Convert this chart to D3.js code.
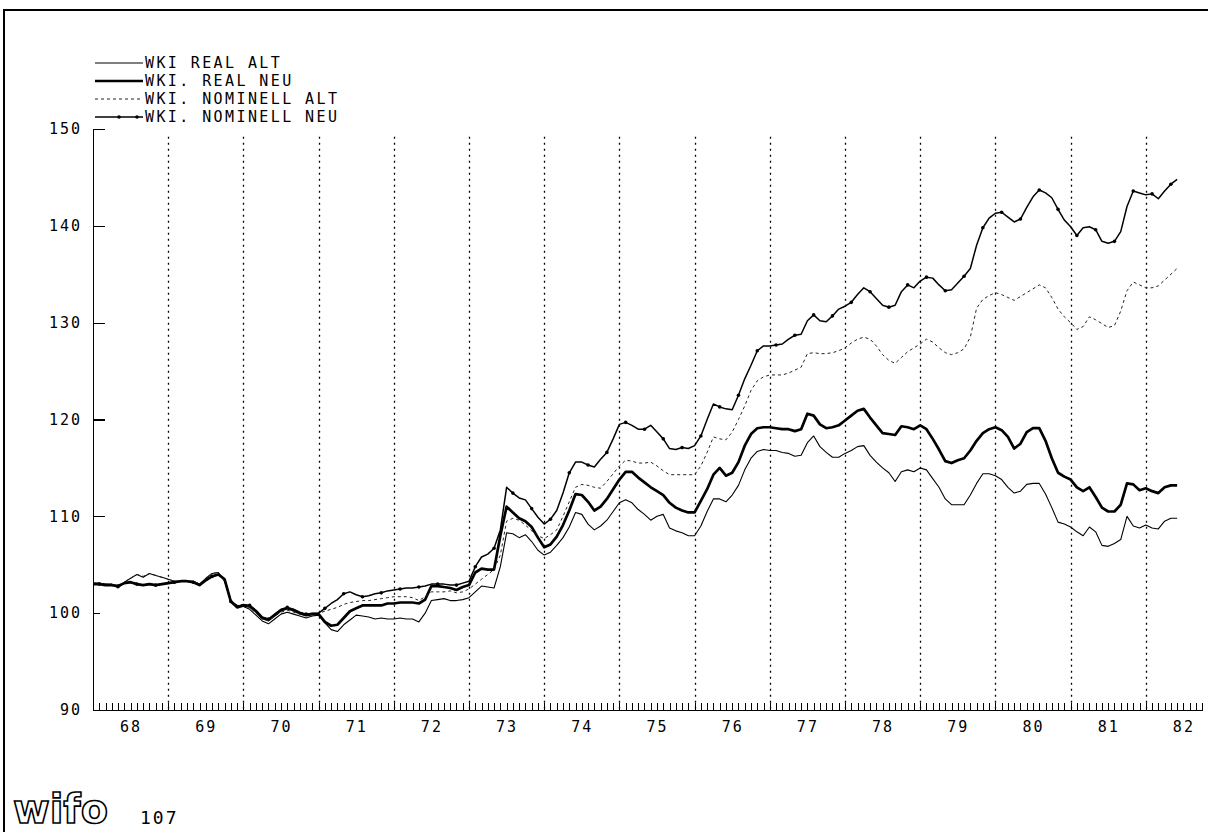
<!DOCTYPE html>
<meta charset="utf-8">
<head>
<style>
  body { margin: 0; background: #fff; }
  svg { display: block; }
  .lbl { font-family: "DejaVu Sans Mono", monospace; font-size: 15px; fill: #000; }
  .axis text { font-family: "DejaVu Sans Mono", monospace; font-size: 15px; fill: #000; }
  .axis path, .axis line { stroke: #000; shape-rendering: crispEdges; }
</style>
</head>
<body>
<script src="https://d3js.org/d3.v7.min.js"></script>
<script>
// monthly values, Jan 1968 .. Jun 1982
var realAlt = [
  103.1, 103.1, 103.0, 103.0, 102.6, 103.2, 103.6, 104.0, 103.7, 104.1, 103.9, 103.7,
  103.5, 103.3, 103.3, 103.3, 103.3, 103.0, 103.6, 104.1, 104.2, 103.3, 101.3, 100.8,
  100.7, 100.4, 99.8, 99.2, 98.9, 99.4, 99.9, 100.1, 99.9, 99.7, 99.5, 99.7,
  99.8, 99.0, 98.3, 98.1, 98.8, 99.3, 99.8, 99.7, 99.6, 99.4, 99.5, 99.4,
  99.4, 99.5, 99.4, 99.4, 99.1, 100.0, 101.3, 101.4, 101.5, 101.3, 101.3, 101.4,
  101.6, 102.2, 102.8, 102.7, 102.6, 104.8, 108.3, 108.2, 107.8, 108.1, 107.4, 106.5,
  106.0, 106.3, 107.0, 107.8, 108.9, 110.4, 110.2, 109.2, 108.6, 109.0, 109.6, 110.5,
  111.4, 111.7, 111.4, 110.7, 110.2, 109.6, 110.0, 110.2, 108.8, 108.5, 108.3, 108.0,
  108.0, 109.0, 110.5, 111.8, 111.8, 111.5, 112.2, 113.2, 114.8, 116.0, 116.7, 116.9,
  116.8, 116.8, 116.6, 116.5, 116.2, 116.3, 117.6, 118.3, 117.2, 116.6, 116.1, 116.1,
  116.5, 116.8, 117.2, 117.3, 116.3, 115.6, 115.0, 114.5, 113.6, 114.6, 114.8, 114.6,
  115.0, 114.8, 113.9, 113.0, 111.8, 111.2, 111.2, 111.2, 112.2, 113.4, 114.4, 114.4,
  114.2, 113.8, 113.0, 112.4, 112.6, 113.3, 113.4, 113.4, 112.3, 110.9, 109.4, 109.2,
  108.9, 108.4, 108.0, 108.9, 108.4, 107.0, 106.9, 107.2, 107.6, 110.0, 109.0, 108.8,
  109.1, 108.8, 108.7, 109.5, 109.8, 109.8
];
var realNeu = [
  103.0, 103.0, 102.9, 102.9, 102.8, 103.1, 103.2, 103.0, 102.9, 103.0, 102.9, 103.0,
  103.1, 103.2, 103.3, 103.3, 103.2, 102.9, 103.4, 103.8, 104.0, 103.5, 101.2, 100.6,
  100.8, 100.7, 100.2, 99.5, 99.3, 99.8, 100.3, 100.5, 100.3, 100.0, 99.8, 99.9,
  99.9, 99.1, 98.7, 98.8, 99.5, 100.2, 100.5, 100.8, 100.8, 100.8, 100.8, 101.0,
  101.0, 101.1, 101.1, 101.1, 101.0, 101.4, 102.8, 102.8, 102.7, 102.6, 102.4, 102.7,
  102.9, 104.2, 104.6, 104.5, 104.5, 108.0, 111.0, 110.4, 109.8, 109.5, 108.9, 107.8,
  106.8, 107.1, 107.9, 109.1, 110.6, 112.3, 112.2, 111.5, 110.6, 111.0, 111.8, 112.8,
  113.8, 114.6, 114.6, 114.0, 113.5, 113.0, 112.6, 112.2, 111.4, 110.9, 110.6, 110.4,
  110.4, 111.6, 112.8, 114.3, 115.0, 114.2, 114.5, 115.6, 117.3, 118.5, 119.1, 119.2,
  119.2, 119.1, 119.0, 119.0, 118.8, 119.0, 120.6, 120.4, 119.5, 119.1, 119.2, 119.4,
  119.9, 120.4, 120.9, 121.1, 120.2, 119.4, 118.6, 118.5, 118.4, 119.3, 119.2, 119.0,
  119.4, 119.0, 118.0, 116.9, 115.7, 115.5, 115.8, 116.0, 116.8, 117.8, 118.6, 119.0,
  119.2, 118.9, 118.2, 117.0, 117.5, 118.7, 119.1, 119.1, 117.8, 116.0, 114.5, 114.1,
  113.8, 113.0, 112.6, 113.0, 112.0, 110.9, 110.5, 110.5, 111.2, 113.4, 113.3, 112.7,
  112.9, 112.6, 112.4, 113.0, 113.2, 113.2
];
var nominellAlt = [
  103.1, 103.1, 103.0, 103.0, 102.7, 103.2, 103.6, 104.0, 103.8, 104.1, 103.9, 103.7,
  103.5, 103.3, 103.3, 103.3, 103.3, 103.0, 103.6, 104.1, 104.2, 103.3, 101.3, 100.8,
  100.9, 100.6, 100.0, 99.4, 99.2, 99.7, 100.1, 100.3, 100.1, 99.9, 99.8, 99.9,
  100.0, 100.2, 100.4, 100.6, 100.9, 101.1, 101.2, 101.3, 101.3, 101.4, 101.5, 101.6,
  101.7, 101.7, 101.7, 101.6, 101.3, 101.7, 102.2, 102.2, 102.2, 102.3, 102.1, 102.2,
  102.5, 103.0, 103.5, 104.0, 104.5, 106.0, 109.5, 109.8, 109.6, 109.1, 108.5, 108.0,
  107.7, 108.1, 108.6, 110.0, 111.5, 113.0, 113.3, 113.2, 113.0, 112.9, 113.6, 114.4,
  115.2, 115.8, 115.7, 115.5, 115.5, 115.6, 115.2, 114.7, 114.3, 114.3, 114.3, 114.3,
  114.3, 115.2, 116.6, 118.2, 118.0, 117.9, 118.7, 120.0, 121.4, 123.0, 124.0, 124.4,
  124.6, 124.6, 124.6, 124.8, 125.1, 125.4, 126.8, 126.9, 126.8, 126.8, 126.9, 127.1,
  127.4, 127.9, 128.3, 128.5, 128.3, 127.6, 126.7, 126.1, 125.8, 126.4, 127.0, 127.4,
  127.8, 128.3, 128.0, 127.4, 126.9, 126.7, 126.9, 127.3, 128.5, 131.5, 132.4, 132.8,
  133.1, 132.9, 132.6, 132.3, 132.7, 133.1, 133.5, 133.9, 133.6, 132.6, 131.4, 130.6,
  130.0, 129.3, 129.6, 130.6, 130.3, 129.9, 129.5, 129.7, 131.2, 133.3, 134.2, 133.9,
  133.6, 133.6, 133.8, 134.4, 135.0, 135.6
];
var nominellNeu = [
  103.0, 103.0, 102.9, 102.9, 102.8, 103.1, 103.2, 103.0, 102.9, 103.0, 102.9, 103.0,
  103.1, 103.2, 103.3, 103.3, 103.2, 102.9, 103.4, 103.8, 104.0, 103.5, 101.2, 100.7,
  100.9, 100.8, 100.3, 99.6, 99.4, 99.9, 100.4, 100.6, 100.4, 100.1, 99.9, 100.0,
  100.0, 100.5, 101.0, 101.4, 102.0, 102.2, 101.9, 101.7, 101.8, 102.0, 102.1, 102.3,
  102.4, 102.5, 102.6, 102.6, 102.7, 102.8, 103.0, 103.0, 103.0, 102.9, 102.9, 103.1,
  103.3, 104.8, 105.8, 106.1, 106.7, 108.6, 113.0, 112.4, 111.9, 111.7, 110.8, 109.9,
  109.2, 109.7, 110.6, 112.4, 114.5, 115.6, 115.6, 115.3, 115.1, 115.9, 116.6, 118.0,
  119.5, 119.7, 119.4, 119.0, 119.0, 119.4, 118.7, 118.0, 117.0, 116.9, 117.1, 117.0,
  117.3, 118.3, 120.0, 121.6, 121.3, 121.1, 121.0, 122.5, 124.2, 125.6, 127.1, 127.6,
  127.6, 127.7, 127.8, 128.3, 128.7, 128.8, 130.2, 130.8, 130.2, 130.1, 130.7, 131.4,
  131.7, 132.1, 132.9, 133.6, 133.2, 132.5, 131.8, 131.6, 131.8, 133.2, 133.9, 133.6,
  134.3, 134.7, 134.6, 133.9, 133.3, 133.4, 134.1, 134.8, 135.6, 138.0, 139.8, 140.8,
  141.3, 141.4, 140.9, 140.4, 140.7, 141.9, 143.0, 143.7, 143.4, 142.9, 141.7, 140.6,
  139.9, 139.0, 139.8, 139.9, 139.6, 138.4, 138.2, 138.4, 139.4, 142.0, 143.6, 143.4,
  143.2, 143.3, 142.8, 143.6, 144.3, 144.8
];
var years = d3.range(1968, 1983);
var yTicks = [90, 100, 110, 120, 130, 140, 150];
var legendNames = ["WKI  REAL ALT", "WKI. REAL NEU", "WKI. NOMINELL ALT", "WKI. NOMINELL NEU"];

var W = 1208, H = 832;
var svg = d3.select("body").append("svg").attr("width", W).attr("height", H);

//scales
var x = d3.scaleLinear().domain([1968, 1982.75]).range([93, 93 + 14.75 * 75.2]);
var y = d3.scaleLinear().domain([90, 150]).range([710, 129]);
var t = function(i) { return 1968 + i / 12; };

//page frame (top and left edges)
svg.append("path").attr("d", "M4,832V10H1208").attr("fill", "none")
   .attr("stroke", "#000").attr("stroke-width", 2);

//yearly dotted grid
svg.append("g").selectAll("line")
  .data(years.slice(1))
  .enter().append("line")
  .attr("x1", function(d) { return Math.round(x(d)) + 0.5; })
  .attr("x2", function(d) { return Math.round(x(d)) + 0.5; })
  .attr("y1", y(149.2)).attr("y2", y(90))
  .attr("stroke", "#000").attr("stroke-width", 1.3)
  .attr("stroke-dasharray", "2,4");

//y axis
var yAxis = d3.axisLeft(y).tickValues(yTicks).tickSize(0).tickPadding(11);
var gy = svg.append("g").attr("class", "axis").attr("transform", "translate(93,0)").call(yAxis);
gy.select(".domain").attr("stroke-width", 1.5);
gy.selectAll(".tick text").style("letter-spacing", "2px");
gy.selectAll(".tick").filter(function(d) { return d > 90; })
  .append("line").attr("x2", function(d) { return d == 100 ? 7 : 12; }).attr("stroke-width", 1.3);

//x axis: monthly ticks
var monthTicks = d3.range(0, 14.75 * 12 + 1).map(t);
var xAxis = d3.axisBottom(x).tickValues(monthTicks).tickSize(-7).tickFormat("");
svg.append("g").attr("class", "axis").attr("transform", "translate(0,710)").call(xAxis)
  .select(".domain").attr("stroke-width", 1.5);

//year labels
var xLab = d3.axisBottom(x).tickValues(years.map(function(d) { return d + 0.5; }))
  .tickSize(0).tickPadding(11).tickFormat(function(d) { return String(Math.floor(d) % 100); });
var gx = svg.append("g").attr("class", "axis").attr("transform", "translate(0,710)").call(xLab);
gx.select(".domain").remove();
gx.selectAll("text").style("letter-spacing", "2px");

//series
var series = [
  { name: legendNames[0], values: realAlt, width: 1.1, dash: null, color: "#000" },
  { name: legendNames[1], values: realNeu, width: 2.7, dash: null, color: "#000" },
  { name: legendNames[2], values: nominellAlt, width: 1, dash: "3,3", color: "#222" },
  { name: legendNames[3], values: nominellNeu, width: 1.5, dash: null, color: "#000", dots: true }
];
var line = d3.line().x(function(d, i) { return x(t(i)); }).y(function(d) { return y(d); });

series.forEach(function(s) {
  svg.append("path").datum(s.values)
    .attr("fill", "none").attr("stroke", s.color)
    .attr("stroke-width", s.width)
    .attr("stroke-linejoin", "round")
    .attr("stroke-dasharray", s.dash)
    .attr("d", line);
  if (s.dots) {
    svg.append("g").selectAll("circle")
      .data(s.values.map(function(v, i) { return [i, v]; }).filter(function(d) { return d[0] % 3 == 1; }))
      .enter().append("circle")
      .attr("cx", function(d) { return x(t(d[0])); })
      .attr("cy", function(d) { return y(d[1]); })
      .attr("r", 1.8).attr("fill", "#000");
  }
});

//legend
var leg = svg.append("g").attr("transform", "translate(95,63)");
series.forEach(function(s, k) {
  var g = leg.append("g").attr("transform", "translate(0," + (k * 18) + ")");
  g.append("line").attr("x1", 0).attr("x2", 48).attr("stroke", s.color)
    .attr("stroke-width", s.width).attr("stroke-dasharray", s.dash);
  if (s.dots) {
    [24, 42].forEach(function(cx) {
      g.append("circle").attr("cx", cx).attr("r", 1.8).attr("fill", "#000");
    });
  }
  g.append("text").attr("class", "lbl").attr("x", 50).attr("dy", "0.36em")
    .style("letter-spacing", "2.4px").text(s.name);
});

//wifo logo and page number
svg.append("text").attr("x", 13).attr("y", 823)
  .attr("textLength", 95).attr("lengthAdjust", "spacingAndGlyphs")
  .style("font-family", "DejaVu Sans").style("font-weight", "bold").style("font-size", "40px")
  .attr("fill", "#fff").attr("stroke", "#000").attr("stroke-width", 1.6)
  .text("wifo");
svg.append("text").attr("class", "lbl").attr("x", 140).attr("y", 824)
  .style("font-size", "18px").style("letter-spacing", "2px").text("107");
</script>
</body>
